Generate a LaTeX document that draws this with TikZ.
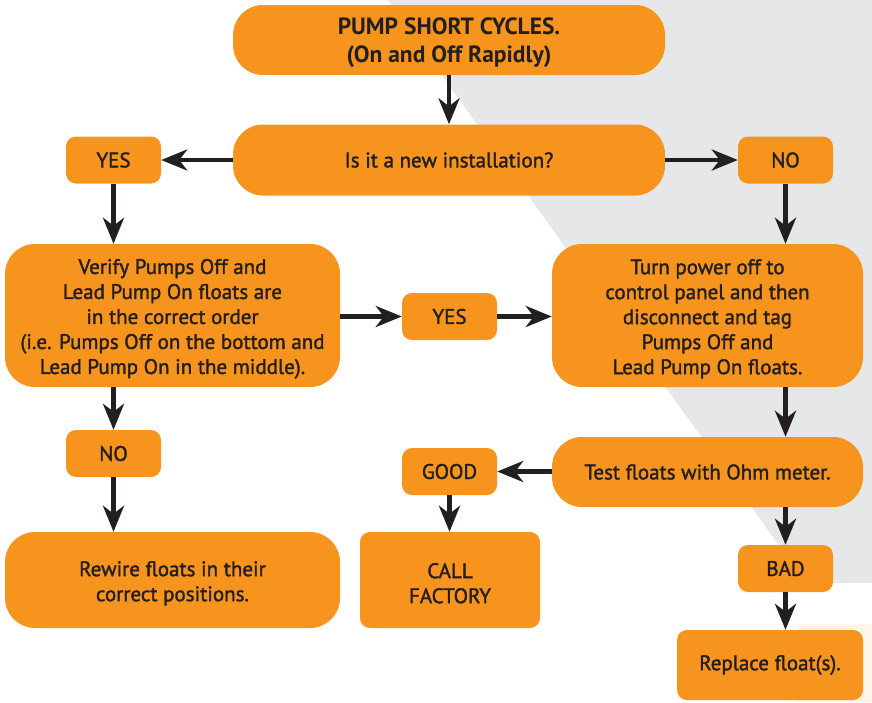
\documentclass[tikz,border=0pt]{standalone}
\usepackage{fontspec}
\setmainfont{PT Sans}
\usetikzlibrary{arrows.meta}
\definecolor{org}{HTML}{F7941D}
\definecolor{ink}{HTML}{231F20}
\definecolor{bggrey}{HTML}{E6E7E9}
\definecolor{cream}{HTML}{FEF5EA}
\newcommand\toppad{\rule{0pt}{21.5pt}}
\begin{document}
\begin{tikzpicture}[x=1pt,y=-1pt,
 box/.style={fill=org, text=ink, align=center, inner sep=0pt, font=\fontsize{21}{25}\selectfont\addfontfeature{FakeBold=1.6}},
 bigbox/.style={box, rounded corners=30pt},
 smallbox/.style={box, rounded corners=10pt, minimum width=95pt, minimum height=47pt},
 arr/.style={draw=ink, line width=4.5pt, -{Stealth[length=26pt,width=21pt,inset=8pt]}}
]
\useasboundingbox (0,0) rectangle (872,702);
\fill[bggrey] (388,0) -- (872,0) -- (872,583) -- (806,583) -- cycle;
\fill[cream] (797,624) rectangle (872,702);

\node[bigbox, minimum width=432pt, minimum height=70pt, font=\fontsize{23.5}{28}\selectfont\bfseries] (top) at (449,40) {\toppad PUMP SHORT CYCLES.\\(On and Off Rapidly)};
\node[bigbox, minimum width=432pt, minimum height=71pt] (q) at (449,160) {Is it a new installation?};
\node[smallbox] (yesL) at (113.5,160) {YES};
\node[smallbox] (noR) at (785.5,160) {NO};
\node[bigbox, minimum width=335pt, minimum height=143pt] (verify) at (172.5,315.5) {\toppad Verify Pumps Off and\\Lead Pump On floats are\\in the correct order\\(i.e. Pumps Off on the bottom and\\Lead Pump On in the middle).};
\node[smallbox] (yesM) at (449.5,316.5) {YES};
\node[bigbox, minimum width=311pt, minimum height=143pt] (turn) at (707.5,315.5) {\toppad Turn power off to\\control panel and then\\disconnect and tag\\Pumps Off and\\Lead Pump On floats.};
\node[smallbox] (noL) at (113.5,453.5) {NO};
\node[bigbox, minimum width=311pt, minimum height=70pt] (test) at (707.5,472) {Test floats with Ohm meter.};
\node[smallbox] (good) at (449.5,471.5) {GOOD};
\node[bigbox, minimum width=335pt, minimum height=96pt] (rewire) at (172.5,580) {\toppad Rewire floats in their\\correct positions.};
\node[box, rounded corners=10pt, minimum width=180pt, minimum height=96pt] (call) at (450,580) {\toppad CALL\\FACTORY};
\node[smallbox] (bad) at (785.5,568.5) {BAD};
\node[box, rounded corners=10pt, minimum width=186pt, minimum height=70pt] (replace) at (770,665) {Replace float(s).};

\draw[arr] (top.south) -- (q.north);
\draw[arr] (q.west) -- (yesL.east);
\draw[arr] (q.east) -- (noR.west);
\draw[arr] (yesL.south) -- (yesL.south |- verify.north);
\draw[arr] (noR.south) -- (noR.south |- turn.north);
\draw[arr] (verify.east |- yesM) -- (yesM.west);
\draw[arr] (yesM.east) -- (yesM.east -| turn.west);
\draw[arr] (verify.south -| noL) -- (noL.north);
\draw[arr] (noL.south) -- (noL.south |- rewire.north);
\draw[arr] (turn.south -| bad) -- (test.north -| bad);
\draw[arr] (test.west |- good) -- (good.east);
\draw[arr] (good.south) -- (good.south |- call.north);
\draw[arr] (test.south -| bad) -- (bad.north);
\draw[arr] (bad.south) -- (bad.south |- replace.north);
\end{tikzpicture}
\end{document}
